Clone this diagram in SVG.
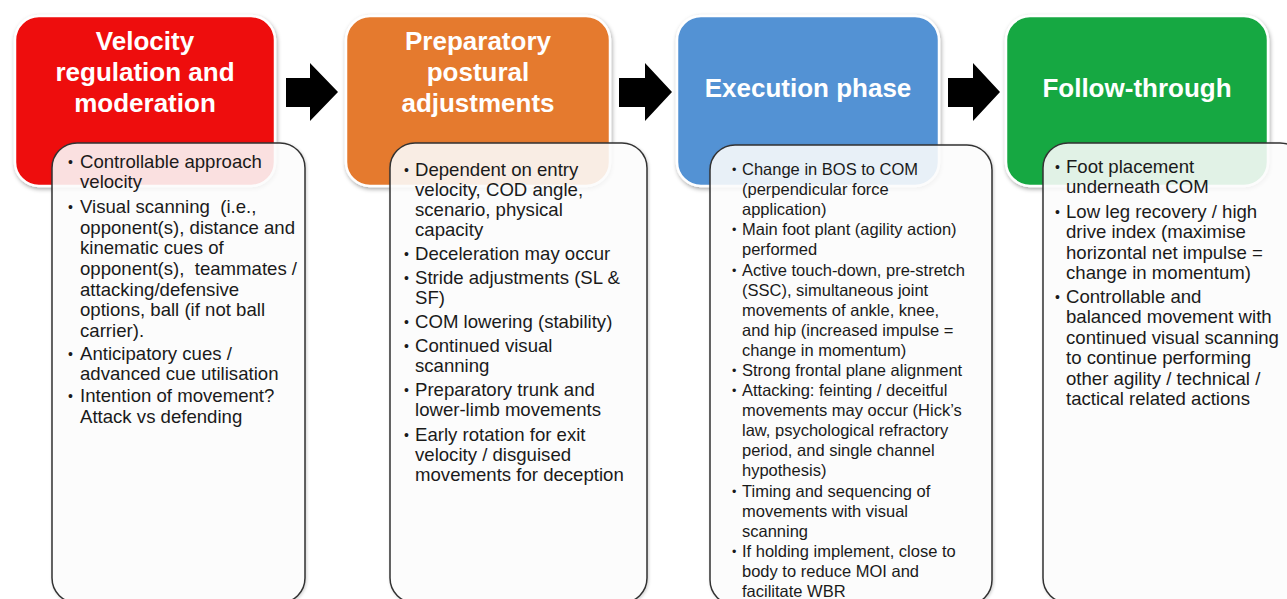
<svg xmlns="http://www.w3.org/2000/svg" width="1287" height="599" viewBox="0 0 1287 599">
<defs>
<filter id="sh" x="-10%" y="-10%" width="120%" height="120%">
<feDropShadow dx="1" dy="2" stdDeviation="2" flood-color="#000" flood-opacity="0.35"/>
</filter>
<filter id="sh2" x="-10%" y="-10%" width="120%" height="120%">
<feDropShadow dx="1" dy="1" stdDeviation="1.5" flood-color="#000" flood-opacity="0.2"/>
</filter>
<style>
.hdr{stroke:#fff;stroke-width:2.5;filter:url(#sh)}
.ht{font-family:"Liberation Sans",Arial,sans-serif;font-weight:bold;font-size:26px;fill:#fff;text-anchor:middle}
.box{fill:#fff;fill-opacity:0.86;stroke:#333;stroke-width:1.5;filter:url(#sh2)}
.bt{font-family:"Liberation Sans",Arial,sans-serif;font-size:18.6px;fill:#1a1a1a}
.bs{font-family:"Liberation Sans",Arial,sans-serif;font-size:16.5px;fill:#1a1a1a}
.bt .b{font-size:14px}
.bs .b{font-size:12.5px}
.arr{fill:#000}
</style>
</defs>
<rect width="1287" height="599" fill="#fff"/>

<g id="node-velocity">
<rect class="hdr" x="15" y="16" width="260" height="170" rx="24" fill="#EE0808"/>
<text class="ht" x="145" y="50">Velocity</text>
<text class="ht" x="145" y="81">regulation and</text>
<text class="ht" x="145" y="112">moderation</text>
</g>
<g id="node-preparatory">
<rect class="hdr" x="346" y="16" width="264" height="170" rx="24" fill="#E57A2E"/>
<text class="ht" x="478" y="50">Preparatory</text>
<text class="ht" x="478" y="81">postural</text>
<text class="ht" x="478" y="112">adjustments</text>
</g>
<g id="node-execution">
<rect class="hdr" x="677" y="16" width="262" height="170" rx="24" fill="#5392D4"/>
<text class="ht" x="808" y="97">Execution phase</text>
</g>
<g id="node-follow">
<rect class="hdr" x="1006" y="16" width="262" height="170" rx="24" fill="#17A843"/>
<text class="ht" x="1137" y="97">Follow-through</text>
</g>

<g id="connectors">
<path class="arr" d="M286,78 H310 V63 L338,92 L310,121 V107 H286 Z"/>
<path class="arr" d="M619,78 H645 V63 L672,92 L645,121 V107 H619 Z"/>
<path class="arr" d="M948,78 H973 V63 L1000,92 L973,121 V107 H948 Z"/>
</g>

<g id="node-velocity-details">
<rect class="box" x="52" y="143" width="253" height="460" rx="25"/>
<g class="bt">
<text class="b" x="68" y="167">•</text><text x="80" y="168">Controllable approach</text>
<text x="80" y="188">velocity</text>
<text class="b" x="68" y="212">•</text><text x="80" y="213" xml:space="preserve">Visual scanning  (i.e.,</text>
<text x="80" y="234">opponent(s), distance and</text>
<text x="80" y="254">kinematic cues of</text>
<text x="80" y="275" xml:space="preserve">opponent(s),  teammates /</text>
<text x="80" y="296">attacking/defensive</text>
<text x="80" y="316">options, ball (if not ball</text>
<text x="80" y="337">carrier).</text>
<text class="b" x="68" y="359">•</text><text x="80" y="360">Anticipatory cues /</text>
<text x="80" y="380">advanced cue utilisation</text>
<text class="b" x="68" y="401">•</text><text x="80" y="402">Intention of movement?</text>
<text x="80" y="423">Attack vs defending</text>
</g>
</g>

<g id="node-preparatory-details">
<rect class="box" x="390" y="143" width="257" height="460" rx="25"/>
<g class="bt">
<text class="b" x="404" y="175">•</text><text x="415" y="176">Dependent on entry</text>
<text x="415" y="196">velocity, COD angle,</text>
<text x="415" y="216">scenario, physical</text>
<text x="415" y="236">capacity</text>
<text class="b" x="404" y="259">•</text><text x="415" y="260">Deceleration may occur</text>
<text class="b" x="404" y="283">•</text><text x="415" y="284">Stride adjustments (SL &amp;</text>
<text x="415" y="304">SF)</text>
<text class="b" x="404" y="327">•</text><text x="415" y="328">COM lowering (stability)</text>
<text class="b" x="404" y="351">•</text><text x="415" y="352">Continued visual</text>
<text x="415" y="372">scanning</text>
<text class="b" x="404" y="395">•</text><text x="415" y="396">Preparatory trunk and</text>
<text x="415" y="416">lower-limb movements</text>
<text class="b" x="404" y="440">•</text><text x="415" y="441">Early rotation for exit</text>
<text x="415" y="461">velocity / disguised</text>
<text x="415" y="481">movements for deception</text>
</g>
</g>

<g id="node-execution-details">
<rect class="box" x="710" y="145" width="282" height="460" rx="25"/>
<g class="bs">
<text class="b" x="732" y="174">•</text><text x="742" y="175">Change in BOS to COM</text>
<text x="742" y="195">(perpendicular force</text>
<text x="742" y="215">application)</text>
<text class="b" x="732" y="234">•</text><text x="742" y="235">Main foot plant (agility action)</text>
<text x="742" y="255">performed</text>
<text class="b" x="732" y="275">•</text><text x="742" y="276">Active touch-down, pre-stretch</text>
<text x="742" y="296">(SSC), simultaneous joint</text>
<text x="742" y="316">movements of ankle, knee,</text>
<text x="742" y="336">and hip (increased impulse =</text>
<text x="742" y="356">change in momentum)</text>
<text class="b" x="732" y="375">•</text><text x="742" y="376">Strong frontal plane alignment</text>
<text class="b" x="732" y="395">•</text><text x="742" y="396">Attacking: feinting / deceitful</text>
<text x="742" y="416">movements may occur (Hick’s</text>
<text x="742" y="436">law, psychological refractory</text>
<text x="742" y="456">period, and single channel</text>
<text x="742" y="476">hypothesis)</text>
<text class="b" x="732" y="496">•</text><text x="742" y="497">Timing and sequencing of</text>
<text x="742" y="517">movements with visual</text>
<text x="742" y="537">scanning</text>
<text class="b" x="732" y="556">•</text><text x="742" y="557">If holding implement, close to</text>
<text x="742" y="577">body to reduce MOI and</text>
<text x="742" y="597">facilitate WBR</text>
</g>
</g>

<g id="node-follow-details">
<rect class="box" x="1043" y="143" width="262" height="460" rx="25"/>
<g class="bt">
<text class="b" x="1055" y="172">•</text><text x="1066" y="173">Foot placement</text>
<text x="1066" y="193">underneath COM</text>
<text class="b" x="1055" y="217">•</text><text x="1066" y="218">Low leg recovery / high</text>
<text x="1066" y="238">drive index (maximise</text>
<text x="1066" y="259">horizontal net impulse =</text>
<text x="1066" y="279">change in momentum)</text>
<text class="b" x="1055" y="302">•</text><text x="1066" y="303">Controllable and</text>
<text x="1066" y="323">balanced movement with</text>
<text x="1066" y="344">continued visual scanning</text>
<text x="1066" y="364">to continue performing</text>
<text x="1066" y="385">other agility / technical /</text>
<text x="1066" y="405">tactical related actions</text>
</g>
</g>
</svg>
